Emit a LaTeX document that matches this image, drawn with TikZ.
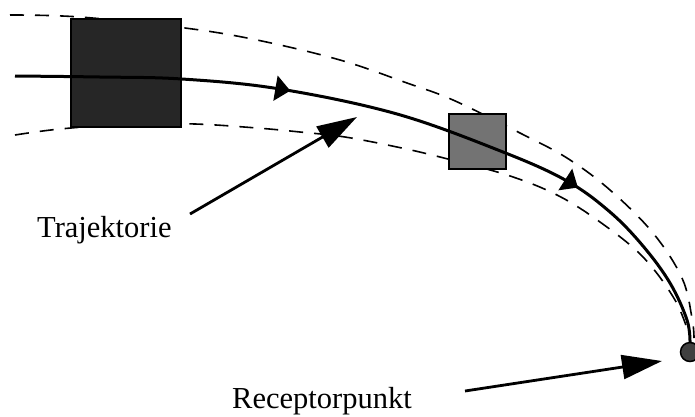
\documentclass[tikz,border=0pt]{standalone}
\usepackage{fontspec}
\setmainfont{Liberation Serif}
\usetikzlibrary{arrows.meta,decorations.markings}
\begin{document}
\begin{tikzpicture}[x=1pt,y=-1pt,
  dashline/.style={line width=1.6pt, dash pattern=on 14pt off 11pt},
  trajline/.style={line width=3pt},
  bigbox/.style={draw, line width=2pt, fill=black!85, minimum width=110pt, minimum height=108pt, inner sep=0pt},
  smallbox/.style={draw, line width=2pt, fill=black!55, minimum width=57pt, minimum height=55pt, inner sep=0pt},
  recept/.style={draw, circle, line width=1.5pt, fill=black!75, minimum size=19pt, inner sep=0pt},
  lbl/.style={inner sep=0pt, font=\fontsize{30.5}{36}\selectfont},
  labarrow/.style={line width=2.8pt, -{Triangle[length=40pt,width=24pt]}},
  flowtip/.style={decoration={markings,
      mark=at position 276pt with {\arrow{Triangle[length=15pt,width=25pt]}},
      mark=at position 581pt with {\arrow{Triangle[length=15pt,width=25pt]}}},
      postaction=decorate}
]
\useasboundingbox (0,0) rectangle (695,416);
% envelope (dashed)
\draw[dashline] plot[smooth, tension=0.6] coordinates {(10,15) (80,17) (185,28) (257,40) (340,60) (407,83) (453,100) (520,133) (567,158) (610,190) (653,233) (682,278) (692,318) (694,338)};
\draw[dashline] plot[smooth, tension=0.6] coordinates {(15,135) (60,129) (130,124) (195,124) (257,128) (300,132) (345,137) (397,147) (440,157) (507,175) (557,195) (600,222) (643,257) (675,300) (689,335)};
% boxes
\node[bigbox] (sq1) at (126,73) {};
\node[smallbox] (sq2) at (477.5,141.5) {};
\node[recept] (rc) at (690,352) {};
% trajectory
\draw[trajline, flowtip] plot[smooth, tension=0.6] coordinates {(15,76) (100,77) (182,79) (280,89) (397,114) (503,152) (567,181) (610,212) (643,246) (670,283) (687,320) (690,343)};
% labels
\node[lbl, anchor=base west] (tr) at (37,237) {Trajektorie};
\node[lbl, anchor=base west] (rp) at (232,408) {Receptorpunkt};
\coordinate (trs) at (190,214);
\coordinate (trt) at (357,117);
\coordinate (rs) at (465,391);
\coordinate (rt) at (662,361);
\draw[labarrow] (trs) -- (trt);
\draw[labarrow] (rs) -- (rt);
\end{tikzpicture}
\end{document}
